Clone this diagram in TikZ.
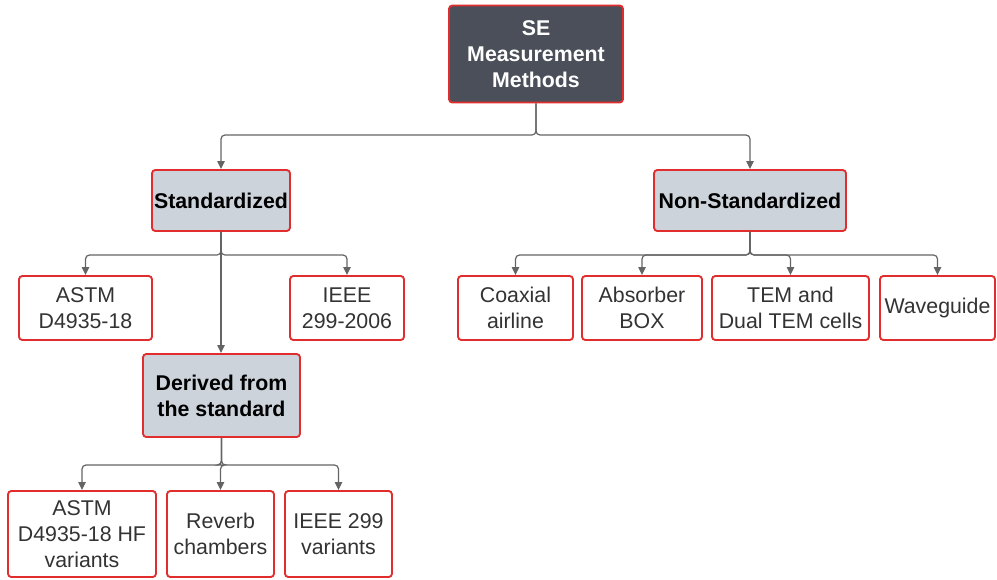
\documentclass[tikz,border=0pt]{standalone}
\usepackage{fontspec}
\setmainfont{Liberation Sans}
\usetikzlibrary{arrows.meta}
\definecolor{boxred}{RGB}{225,45,45}
\definecolor{rootfill}{RGB}{74,79,89}
\definecolor{catfill}{RGB}{205,211,219}
\definecolor{linkgray}{RGB}{100,100,100}

\begin{document}
\begin{tikzpicture}[x=0.75pt,y=0.75pt,yscale=-1,xscale=1,
  box/.style={draw=boxred,line width=1.4pt,rounded corners=2.5pt,align=center,inner sep=0pt,
    font=\fontsize{16}{19.5}\selectfont,text=black!80},
  leaf/.style={box,fill=white},
  cat/.style={box,fill=catfill,text=black,font=\fontsize{16}{19.5}\selectfont\bfseries},
  rootbox/.style={box,fill=rootfill,text=white,font=\fontsize{16}{19.5}\selectfont\bfseries},
  link/.style={draw=linkgray,line width=0.9pt,rounded corners=3pt,-{Triangle[length=6pt,width=5.5pt]}}]
\useasboundingbox (0,0) rectangle (997,579);

% top
\node[rootbox,minimum width=130.5pt,minimum height=72.75pt] (se) at (536,54) {SE\\Measurement\\Methods};

% categories
\node[cat,minimum width=103.5pt,minimum height=45.75pt] (std) at (221,200.5) {Standardized};
\node[cat,minimum width=144pt,minimum height=45.75pt] (nonstd) at (750,200.5) {Non-Standardized};

% standardized
\node[leaf,minimum width=99.75pt,minimum height=48pt] (astm) at (85.5,308) {ASTM\\D4935-18};
\node[leaf,minimum width=85.5pt,minimum height=48pt] (ieee) at (347,308) {IEEE\\299-2006};
\node[cat,minimum width=117.75pt,minimum height=62.25pt] (derived) at (221.5,395.5) {Derived from\\the standard};

% non-standardized
\node[leaf,minimum width=86.25pt,minimum height=48pt] (coax) at (515.5,308) {Coaxial\\airline};
\node[leaf,minimum width=90pt,minimum height=48pt] (absorber) at (642,308) {Absorber\\BOX};
\node[leaf,minimum width=117.75pt,minimum height=48pt] (tem) at (790.5,308) {TEM and\\Dual TEM cells};
\node[leaf,minimum width=86.25pt,minimum height=48pt] (wave) at (937.5,308) {Waveguide};

% derived
\node[leaf,minimum width=111pt,minimum height=64.5pt] (hf) at (82,534) {ASTM\\D4935-18 HF\\variants};
\node[leaf,minimum width=80.25pt,minimum height=64.5pt] (reverb) at (220.5,534) {Reverb\\chambers};
\node[leaf,minimum width=80.25pt,minimum height=64.5pt] (ieeevar) at (338.5,534) {IEEE 299\\variants};

% connectors
\draw[link] (se.south) |- (536,135) -| (std.north);
\draw[link] (se.south) |- (536,135) -| (nonstd.north);

\draw[link] (std.south) |- (221,255) -| (astm.north);
\draw[link] (std.south) |- (221,255) -| (ieee.north);
\draw[link] (std.south) -- (std.south |- derived.north);

\foreach \n in {coax,absorber,tem,wave}
  \draw[link] (nonstd.south) |- (750,255) -| (\n.north);

\foreach \n in {hf,reverb,ieeevar}
  \draw[link] (derived.south) |- (221.5,465) -| (\n.north);

\end{tikzpicture}
\end{document}
